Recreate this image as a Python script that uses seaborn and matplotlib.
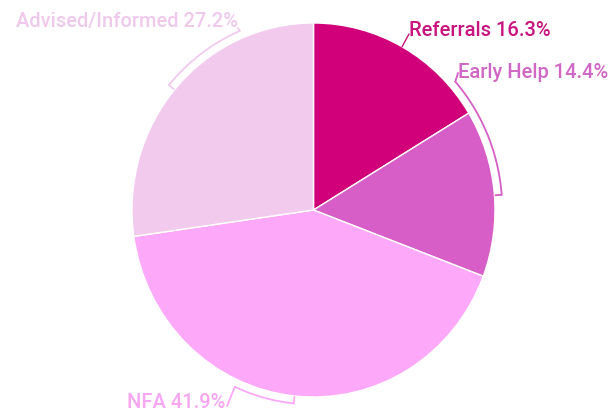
import numpy as np
import matplotlib
matplotlib.use("Agg")
import matplotlib.pyplot as plt
import seaborn as sns

# data
labels = ["Referrals", "Early Help", "NFA", "Advised/Informed"]
shares = [16.3, 14.4, 41.9, 27.2]
colors = ["#D1007A", "#D65EC6", "#FDA8F9", "#F1CAEE"]
text_colors = ["#C9137E", "#D066C6", "#F7A6F1", "#EFC9EB"]

sns.set_theme(style="white")
plt.rcParams["font.family"] = ["Roboto", "DejaVu Sans"]

W, H = 613, 412
cx, cy, rx, ry = 313.5, 210, 181.5, 187


def px(x, y):
    # pixel position (from top left) -> data coords of the unit pie
    return (x - cx) / rx, (cy - y) / ry


fig = plt.figure(figsize=(W / 100, H / 100), dpi=100)
ax = fig.add_axes([0, 0, 1, 1])
wedges, _ = ax.pie(shares, colors=colors, startangle=90, counterclock=False,
                   wedgeprops=dict(edgecolor="white", linewidth=1))
ax.set_aspect("auto")
ax.set_xlim(px(0, 0)[0], px(W, 0)[0])
ax.set_ylim(px(0, H)[1], px(0, 0)[1])
ax.axis("off")

# label layout: text anchor in pixels, alignment, leader arc (deg, label end first)
layout = {
    "Referrals": ((409, 31), "left", None, 60.8, (409, 34)),
    "Early Help": ((458, 72), "left", (41.3, 4.5), None, (458, 73)),
    "NFA": ((225, 402), "right", (-114.6, -96), None, (227, 406)),
    "Advised/Informed": ((238, 21), "right", (113, 140), None, (238, 28)),
}

r_arc = 1.04
for lab, val, tc, col in zip(labels, shares, text_colors, colors):
    (tx, ty), ha, arc, ang, cend = layout[lab]
    x, y = px(tx, ty)
    ax.text(x, y, f"{lab} {val}%", color=tc, ha=ha, va="center",
            fontsize=14.5, fontweight="medium")
    ex, ey = px(*cend)
    if arc is None:
        a = np.radians(ang)
        ax.plot([np.cos(a), ex], [np.sin(a), ey], color=tc, lw=1)
    else:
        t = np.radians(np.linspace(arc[0], arc[1], 60))
        ax.plot(r_arc * np.cos(t), r_arc * np.sin(t), color=col, lw=1.3)
        # inward tick at the far end
        a1 = t[-1]
        ax.plot([r_arc * np.cos(a1), 1.005 * np.cos(a1)],
                [r_arc * np.sin(a1), 1.005 * np.sin(a1)], color=col, lw=1.3)
        # connector from the near end to the label
        a0 = t[0]
        ax.plot([r_arc * np.cos(a0), ex], [r_arc * np.sin(a0), ey],
                color=col, lw=1.3)

fig.savefig("out.png", dpi=100, facecolor="white")
